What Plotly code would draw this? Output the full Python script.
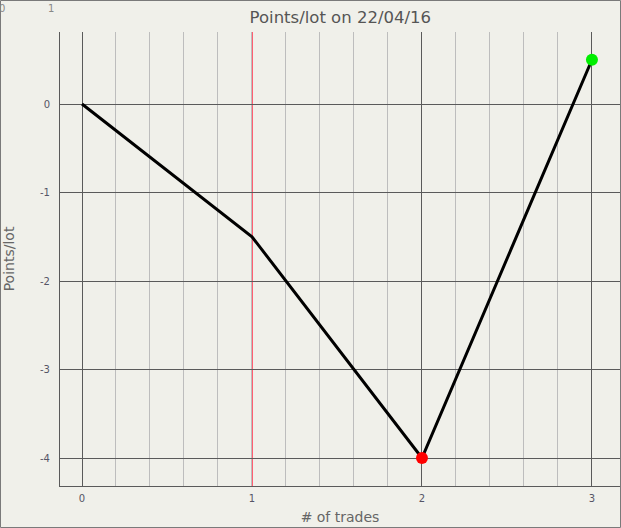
import plotly.graph_objects as go

trades = [0, 1, 2, 3]
points = [0, -1.5, -4, 0.5]
y_ticks = [-4, -3, -2, -1, 0]
y_tick_labels = ["-4", "-3", "-2", "-1", "0"]
min_idx = points.index(min(points))
max_idx = points.index(max(points))
title_text = "Points/lot on 22/04/16"
x_title = "# of trades"
y_title = "Points/lot"
marker_line_x = 1
dark_grid_x = [t for t in trades if t != marker_line_x]

BG = "#f0f0ea"
XR = [-0.1294, 3.165]
PLOT_W = 560
px_per_unit = PLOT_W / (XR[1] - XR[0])
half_px = 0.5 / px_per_unit  # pixel-snapping offset so the 1px line stays crisp

fig = go.Figure()
fig.add_trace(go.Scatter(x=trades, y=points, mode="lines",
                         line=dict(color="black", width=3), showlegend=False,
                         hoverinfo="skip"))
fig.add_trace(go.Scatter(x=[trades[min_idx]], y=[points[min_idx]], mode="markers",
                         marker=dict(color="#ff0000", size=12), showlegend=False))
fig.add_trace(go.Scatter(x=[trades[max_idx]], y=[points[max_idx]], mode="markers",
                         marker=dict(color="#00ee00", size=12), showlegend=False))
# invisible trace to activate the overlay axis carrying the dark vertical gridlines
fig.add_trace(go.Scatter(x=[trades[0]], y=[points[0]], xaxis="x2", mode="markers",
                         marker=dict(opacity=0), showlegend=False, hoverinfo="skip"))

fig.add_shape(type="line", xref="x", yref="paper",
              x0=marker_line_x + half_px, x1=marker_line_x + half_px,
              y0=0, y1=1, line=dict(color="#ff5a6e", width=1), layer="between")

font = "DejaVu Sans, Verdana, sans-serif"
fig.update_layout(
    width=621, height=528,
    margin=dict(l=60, r=1, t=32, b=42),
    paper_bgcolor=BG, plot_bgcolor=BG,
    font=dict(family=font, color="#555"),
    title=dict(text=title_text, x=0.548, xanchor="center", y=0.967, yanchor="middle",
               font=dict(size=16.5, color="#555")),
    xaxis=dict(range=XR, tickvals=trades, ticktext=[str(t) for t in trades],
               showgrid=False,
               minor=dict(dtick=0.2, tick0=0, showgrid=True, gridcolor="#bdbdbd", gridwidth=1),
               zeroline=False, showline=True, linecolor="#5a5a5a", linewidth=1,
               ticks="", ticklabelstandoff=3,
               tickfont=dict(size=10, color="#556"),
               title=dict(text=x_title, font=dict(size=14, color="#666"), standoff=9)),
    xaxis2=dict(range=XR, overlaying="x", side="bottom", tickvals=dark_grid_x,
                showticklabels=False, showgrid=True, gridcolor="#5a5a5a", gridwidth=1,
                zeroline=False, showline=False, ticks=""),
    yaxis=dict(range=[-4.3164, 0.8136], tickvals=y_ticks, ticktext=y_tick_labels,
               showgrid=True, gridcolor="#5a5a5a", gridwidth=1,
               zeroline=False, showline=True, linecolor="#5a5a5a", linewidth=1,
               ticks="", ticklabelstandoff=7,
               tickfont=dict(size=10, color="#556"),
               title=dict(text=y_title, font=dict(size=14, color="#666"), standoff=22)),
)

# outer frame
fig.add_shape(type="rect", xref="paper", yref="paper",
              x0=(-60 + 0.5) / 560, x1=(561 - 0.5) / 560,
              y0=(-42 + 0.5) / 454, y1=(454 + 32 - 0.5) / 454,
              line=dict(color="#7a7a7a", width=1), layer="above")
fig.add_annotation(text="0", xref="paper", yref="paper", x=(-60 + 2) / 560, y=(454 + 32 - 9) / 454,
                   showarrow=False, font=dict(size=10, color="#888"), xanchor="center", yanchor="middle")
fig.add_annotation(text="1", xref="paper", yref="paper", x=(-60 + 51) / 560, y=(454 + 32 - 9) / 454,
                   showarrow=False, font=dict(size=10, color="#888"), xanchor="center", yanchor="middle")

fig.write_html("out.html", config={"displayModeBar": False},
               post_script="document.body.style.margin='0';document.body.style.overflow='hidden';")
